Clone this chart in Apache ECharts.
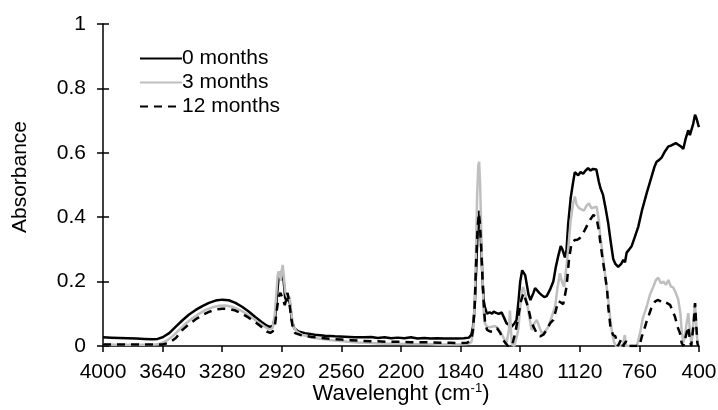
<!DOCTYPE html>
<html>
<head>
<meta charset="utf-8">
<script src="https://cdn.jsdelivr.net/npm/echarts@6/dist/echarts.min.js"></script>
<style>
  html, body { margin: 0; padding: 0; background: #fff; }
  #chart { width: 718px; height: 410px; }
</style>
</head>
<body>
<div id="chart"></div>
<script>
// wavenumber (cm-1), absorbance
var months0 = [[4000,0.027],[3950,0.026],[3900,0.025],[3850,0.024],[3800,0.023],[3750,0.022],[3700,0.021],[3670,0.022],[3640,0.027],[3600,0.04],[3560,0.06],[3520,0.08],[3480,0.098],[3440,0.112],[3400,0.124],[3360,0.134],[3320,0.141],[3280,0.144],[3240,0.142],[3200,0.134],[3160,0.122],[3120,0.107],[3080,0.09],[3040,0.074],[3010,0.063],[2990,0.059],[2975,0.062],[2960,0.09],[2950,0.15],[2940,0.21],[2932,0.22],[2925,0.205],[2918,0.235],[2910,0.21],[2900,0.15],[2890,0.14],[2880,0.15],[2870,0.13],[2860,0.08],[2845,0.055],[2820,0.045],[2780,0.04],[2720,0.035],[2660,0.032],[2600,0.03],[2540,0.029],[2480,0.027],[2420,0.027],[2380,0.028],[2340,0.025],[2300,0.027],[2260,0.024],[2220,0.026],[2180,0.024],[2140,0.027],[2100,0.023],[2060,0.025],[2020,0.023],[1980,0.024],[1940,0.023],[1900,0.023],[1860,0.023],[1820,0.024],[1790,0.026],[1775,0.035],[1765,0.06],[1755,0.12],[1745,0.25],[1737,0.36],[1730,0.42],[1723,0.4],[1715,0.3],[1707,0.2],[1700,0.14],[1693,0.12],[1680,0.1],[1665,0.105],[1650,0.1],[1640,0.107],[1625,0.103],[1610,0.1],[1592,0.104],[1575,0.085],[1562,0.07],[1545,0.065],[1532,0.06],[1515,0.07],[1502,0.081],[1490,0.14],[1480,0.2],[1468,0.235],[1458,0.24],[1450,0.22],[1440,0.19],[1430,0.16],[1418,0.143],[1400,0.165],[1390,0.18],[1380,0.18],[1365,0.165],[1350,0.158],[1335,0.152],[1320,0.155],[1300,0.175],[1280,0.2],[1265,0.245],[1250,0.28],[1235,0.31],[1225,0.3],[1210,0.275],[1200,0.3],[1190,0.38],[1175,0.46],[1160,0.51],[1150,0.54],[1140,0.54],[1130,0.53],[1115,0.54],[1100,0.535],[1085,0.545],[1070,0.552],[1055,0.545],[1040,0.55],[1020,0.548],[1005,0.51],[995,0.49],[980,0.47],[965,0.43],[948,0.38],[935,0.33],[918,0.27],[905,0.255],[888,0.246],[870,0.255],[857,0.268],[847,0.26],[837,0.29],[822,0.3],[807,0.31],[790,0.335],[767,0.37],[745,0.42],[716,0.475],[690,0.52],[670,0.555],[656,0.572],[640,0.578],[626,0.585],[605,0.605],[585,0.62],[570,0.622],[555,0.626],[540,0.63],[525,0.625],[510,0.62],[495,0.612],[480,0.645],[465,0.67],[455,0.655],[444,0.65],[435,0.69],[424,0.718],[414,0.705],[404,0.686],[400,0.68]];

var months3 = [[4000,0.005],[3900,0.004],[3800,0.004],[3700,0.004],[3660,0.006],[3620,0.015],[3580,0.03],[3540,0.05],[3500,0.07],[3460,0.086],[3420,0.1],[3380,0.112],[3340,0.12],[3300,0.125],[3260,0.126],[3220,0.122],[3180,0.114],[3140,0.102],[3100,0.088],[3060,0.073],[3030,0.062],[3005,0.054],[2990,0.052],[2975,0.056],[2962,0.1],[2952,0.17],[2945,0.22],[2938,0.232],[2932,0.228],[2926,0.205],[2920,0.235],[2915,0.252],[2908,0.22],[2900,0.17],[2890,0.155],[2880,0.16],[2872,0.15],[2862,0.1],[2850,0.06],[2830,0.045],[2800,0.035],[2750,0.028],[2700,0.023],[2640,0.019],[2580,0.016],[2520,0.013],[2460,0.011],[2400,0.01],[2340,0.008],[2280,0.007],[2220,0.007],[2160,0.006],[2100,0.006],[2040,0.006],[1980,0.005],[1920,0.005],[1860,0.005],[1800,0.006],[1775,0.012],[1765,0.04],[1755,0.12],[1747,0.3],[1740,0.47],[1733,0.56],[1728,0.572],[1722,0.5],[1715,0.35],[1707,0.2],[1700,0.1],[1693,0.07],[1680,0.06],[1665,0.058],[1650,0.06],[1632,0.062],[1615,0.055],[1600,0.045],[1590,0.04],[1575,0.02],[1565,0.003],[1555,0.0],[1548,0.05],[1542,0.11],[1536,0.05],[1530,0.005],[1515,0.0],[1505,0.02],[1492,0.05],[1480,0.12],[1470,0.17],[1462,0.184],[1450,0.16],[1438,0.133],[1425,0.09],[1411,0.05],[1395,0.07],[1380,0.081],[1365,0.06],[1350,0.04],[1330,0.045],[1310,0.06],[1290,0.09],[1269,0.122],[1255,0.18],[1240,0.226],[1228,0.2],[1215,0.184],[1200,0.25],[1189,0.308],[1175,0.39],[1160,0.445],[1150,0.464],[1140,0.44],[1125,0.428],[1110,0.424],[1095,0.42],[1080,0.435],[1065,0.443],[1050,0.428],[1035,0.43],[1018,0.433],[1005,0.39],[998,0.35],[980,0.277],[962,0.2],[948,0.143],[935,0.08],[925,0.04],[912,0.01],[900,0.0],[880,0.0],[860,0.003],[848,0.034],[840,0.0],[800,0.0],[775,0.0],[756,0.04],[740,0.085],[716,0.122],[696,0.16],[676,0.184],[660,0.205],[646,0.212],[630,0.195],[615,0.2],[600,0.19],[585,0.205],[570,0.185],[555,0.181],[540,0.165],[525,0.143],[512,0.1],[505,0.05],[495,0.01],[485,0.03],[475,0.07],[465,0.102],[455,0.05],[447,0.01],[440,0.03],[432,0.09],[424,0.133],[416,0.06],[410,0.02],[405,0.0],[400,0.0]];

var months12 = [[4000,0.005],[3900,0.005],[3800,0.005],[3700,0.005],[3640,0.005],[3600,0.01],[3560,0.025],[3520,0.05],[3480,0.068],[3440,0.083],[3400,0.096],[3360,0.106],[3320,0.113],[3280,0.116],[3240,0.115],[3200,0.11],[3160,0.1],[3120,0.088],[3080,0.074],[3040,0.058],[3010,0.045],[2990,0.041],[2975,0.045],[2960,0.07],[2948,0.12],[2938,0.155],[2928,0.165],[2920,0.16],[2910,0.14],[2902,0.127],[2893,0.145],[2885,0.165],[2876,0.14],[2866,0.1],[2855,0.06],[2840,0.04],[2800,0.033],[2740,0.028],[2680,0.025],[2620,0.022],[2560,0.02],[2500,0.018],[2440,0.016],[2380,0.015],[2320,0.014],[2260,0.013],[2200,0.013],[2140,0.012],[2080,0.012],[2020,0.011],[1960,0.01],[1900,0.01],[1840,0.009],[1800,0.01],[1775,0.02],[1765,0.05],[1755,0.12],[1747,0.25],[1738,0.36],[1730,0.412],[1723,0.38],[1715,0.3],[1707,0.2],[1700,0.13],[1692,0.07],[1680,0.05],[1660,0.045],[1642,0.045],[1620,0.055],[1600,0.04],[1585,0.02],[1570,0.01],[1555,0.0],[1530,0.0],[1510,0.04],[1492,0.091],[1475,0.14],[1460,0.164],[1445,0.14],[1432,0.12],[1415,0.08],[1400,0.06],[1380,0.04],[1360,0.03],[1340,0.035],[1320,0.05],[1300,0.07],[1280,0.081],[1265,0.11],[1250,0.14],[1235,0.135],[1220,0.13],[1200,0.184],[1185,0.27],[1170,0.32],[1150,0.329],[1135,0.33],[1120,0.335],[1100,0.35],[1080,0.37],[1060,0.39],[1038,0.407],[1020,0.4],[1005,0.36],[998,0.33],[985,0.28],[975,0.246],[962,0.2],[955,0.174],[948,0.12],[935,0.06],[920,0.035],[905,0.03],[890,0.0],[870,0.02],[860,0.0],[840,0.015],[830,0.0],[760,0.0],[745,0.03],[737,0.04],[720,0.07],[706,0.091],[690,0.115],[666,0.138],[650,0.143],[636,0.14],[620,0.133],[600,0.135],[575,0.128],[560,0.11],[545,0.091],[530,0.06],[515,0.04],[505,0.01],[495,0.0],[485,0.02],[475,0.04],[465,0.06],[455,0.02],[447,0.0],[440,0.0],[432,0.07],[424,0.133],[416,0.06],[410,0.01],[405,0.0],[400,0.0]];

var seriesNames = ['0 months', '3 months', '12 months'];

var myChart = echarts.init(document.getElementById('chart'));
var font = 'Liberation Sans, Arial, sans-serif';

// shared axis settings; the second copy of each axis draws the inner half of the crossing ticks
function xAxisBase() {
  return { type: 'value', inverse: true, min: 400, max: 4000, interval: 360, splitLine: {show: false} };
}
function yAxisBase() {
  return { type: 'value', min: 0, max: 1, interval: 0.2, splitLine: {show: false} };
}

var xMain = xAxisBase();
xMain.axisLine = {show: true, lineStyle: {color: '#000', width: 1.5}};
xMain.axisTick = {show: true, inside: false, length: 6, lineStyle: {color: '#000', width: 1.5}};
xMain.axisLabel = {color: '#000', fontSize: 21, fontFamily: font, margin: 16, formatter: function (v) { return String(v); }};
xMain.name = 'Wavelenght (cm{sup|-1})';
xMain.nameLocation = 'middle';
xMain.nameGap = 36;
xMain.nameMoveOverlap = false;
xMain.nameTextStyle = {
  color: '#000', fontSize: 22, fontFamily: font,
  rich: {sup: {fontSize: 13, fontFamily: font, color: '#000', verticalAlign: 'bottom', padding: [0, 0, 11, 0]}}
};
var xInner = xAxisBase();
xInner.axisLine = {show: false};
xInner.axisTick = {show: true, inside: true, length: 5, lineStyle: {color: '#000', width: 1.5}};
xInner.axisLabel = {show: false};

var yMain = yAxisBase();
yMain.axisLine = {show: true, lineStyle: {color: '#000', width: 1.5}};
yMain.axisTick = {show: true, inside: false, length: 6, lineStyle: {color: '#000', width: 1.5}};
yMain.axisLabel = {color: '#000', fontSize: 21, fontFamily: font, margin: 17};
yMain.name = 'Absorbance';
yMain.nameLocation = 'middle';
yMain.nameGap = 72;
yMain.nameMoveOverlap = false;
yMain.nameTextStyle = {color: '#000', fontSize: 21, fontFamily: font, padding: [0, 0, 0, 16]};
var yInner = yAxisBase();
yInner.position = 'left';
yInner.axisLine = {show: false};
yInner.axisTick = {show: true, inside: true, length: 6, lineStyle: {color: '#000', width: 1.5}};
yInner.axisLabel = {show: false};

myChart.setOption({
  backgroundColor: '#fff',
  animation: false,
  grid: {left: 103, right: 19, top: 24, bottom: 64, containLabel: false, outerBoundsMode: 'none'},
  legend: {
    orient: 'vertical',
    left: 134,
    top: 43,
    itemWidth: 42,
    itemHeight: 14,
    itemGap: 3,
    data: seriesNames,
    itemStyle: {opacity: 0},
    textStyle: {color: '#000', fontSize: 21, fontFamily: font, lineHeight: 21, padding: [0, 0, 0, -5]}
  },
  xAxis: [xMain, xInner],
  yAxis: [yMain, yInner],
  series: [
    {
      name: seriesNames[0], type: 'line', data: months0, symbol: 'none',
      lineStyle: {color: '#000', width: 2.5}, itemStyle: {color: '#000'}
    },
    {
      name: seriesNames[1], type: 'line', data: months3, symbol: 'none',
      lineStyle: {color: '#bfbfbf', width: 2.5}, itemStyle: {color: '#bfbfbf'}
    },
    {
      name: seriesNames[2], type: 'line', data: months12, symbol: 'none',
      lineStyle: {color: '#000', width: 2.5, type: [8, 6]}, itemStyle: {color: '#000'}
    }
  ]
});
</script>
</body>
</html>
